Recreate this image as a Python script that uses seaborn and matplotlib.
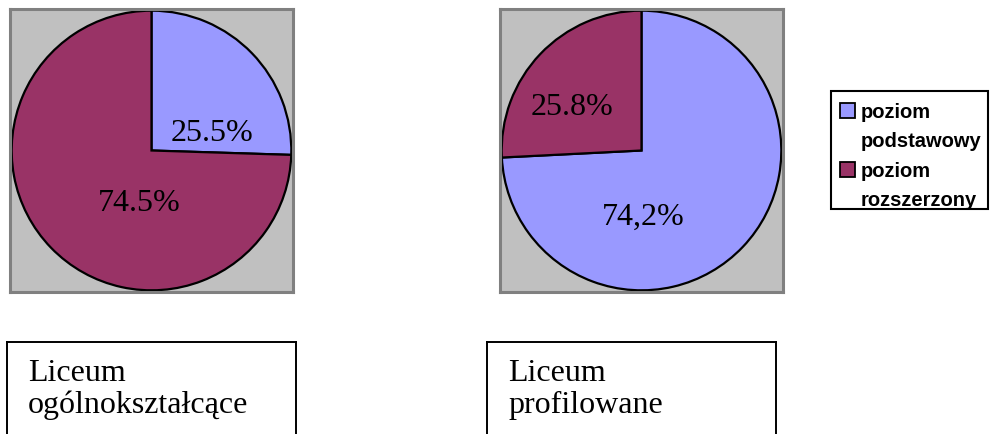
import matplotlib
matplotlib.use("Agg")
import matplotlib.pyplot as plt
from matplotlib.patches import Rectangle
import seaborn as sns

# Share of exam level chosen, by school type
categories = ["poziom\npodstawowy", "poziom\nrozszerzony"]
schools = ["Liceum\nogólnokształcące", "Liceum\nprofilowane"]
ogolnoksztalcace = [25.5, 74.5]
profilowane = [74.2, 25.8]
labels_ogolno = ["25.5%", "74.5%"]
labels_profil = ["74,2%", "25.8%"]

sns.set_style("white")
palette = sns.color_palette(["#9999FF", "#993366"])
plot_bg = "#C0C0C0"
serif = ["Liberation Serif", "DejaVu Serif"]
sans = ["Liberation Sans", "DejaVu Sans"]

W, H = 990, 434
fig = plt.figure(figsize=(W / 100, H / 100), dpi=100)


def px_axes(x0, y0, w, h):
    """Axes placed by pixel box (top-left origin)."""
    return fig.add_axes([x0 / W, 1 - (y0 + h) / H, w / W, h / H])


def fx(x):
    return x / W


def fy(y):
    return 1 - y / H


def draw_pie(ax, values, labels, label_pos):
    ax.pie(values, colors=palette, startangle=90, counterclock=False,
           radius=1.0, wedgeprops=dict(edgecolor="black", linewidth=1.6))
    ax.set_frame_on(True)
    ax.set_facecolor(plot_bg)
    ax.set_xlim(-1.012, 1.012)
    ax.set_ylim(-1.012, 1.012)
    ax.set_xticks([])
    ax.set_yticks([])
    for sp in ax.spines.values():
        sp.set_color("#808080")
        sp.set_linewidth(2.2)
    for txt, (x, y) in zip(labels, label_pos):
        ax.text(x, y, txt, ha="center", va="center", fontsize=23,
                family=serif, color="black")


ax1 = px_axes(10, 9, 283, 283)
draw_pie(ax1, ogolnoksztalcace, labels_ogolno, [(0.43, 0.12), (-0.085, -0.38)])

ax2 = px_axes(500, 9, 283, 283)
draw_pie(ax2, profilowane, labels_profil, [(0.01, -0.48), (-0.50, 0.31)])

# Legend: framed box with a swatch and a two-line label per category
fig.add_artist(Rectangle((fx(831), fy(209)), fx(157), 118 / H,
                         transform=fig.transFigure, facecolor="white",
                         edgecolor="black", linewidth=1.5))
for i, (cat, col) in enumerate(zip(categories, palette)):
    top = 103 + i * 59
    fig.add_artist(Rectangle((fx(840), fy(top + 15)), fx(15), 15 / H,
                             transform=fig.transFigure, facecolor=col,
                             edgecolor="black", linewidth=1.3))
    for j, line in enumerate(cat.split("\n")):
        fig.text(fx(861), fy(top + 15 + j * 29), line, ha="left",
                 va="baseline", fontsize=14.5, family=sans, weight="bold",
                 color="black")

# School name boxes below each pie
for x0, name in zip([7, 487], schools):
    tax = px_axes(x0, 342, 289, 110)
    tax.set_xticks([])
    tax.set_yticks([])
    tax.set_xlim(0, 289)
    tax.set_ylim(110, 0)
    for sp in tax.spines.values():
        sp.set_color("black")
        sp.set_linewidth(1.4)
    tax.text(21, 17, name, ha="left", va="top", fontsize=23, family=serif,
             linespacing=1.12, color="black")

fig.savefig("out.png", dpi=100, facecolor="white")
